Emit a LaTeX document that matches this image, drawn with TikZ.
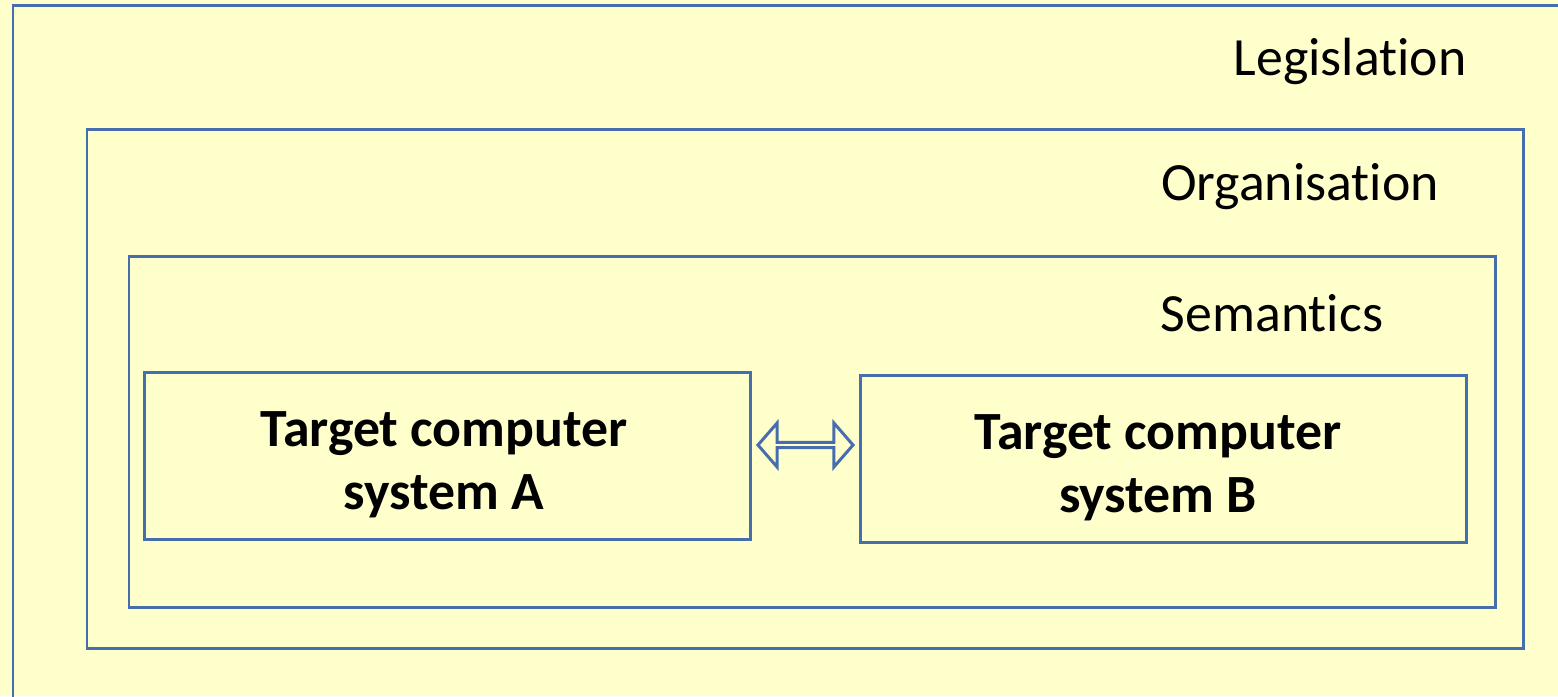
\documentclass[tikz,border=0pt]{standalone}
\usepackage{fontspec}
\setmainfont[Ligatures=NoCommon]{Carlito}
\usetikzlibrary{shapes.arrows}
\definecolor{paleyellow}{RGB}{255,255,204}
\definecolor{frameblue}{RGB}{70,110,175}
\tikzset{layer/.style={draw=frameblue, line width=0.85pt},
 layername/.style={font=\fontsize{15.3}{18}\selectfont},
 sysbox/.style={draw=frameblue, line width=0.85pt, minimum width=6.05cm,
   minimum height=1.66cm},
 sysname/.style={align=center, font=\fontsize{15.3}{18}\selectfont\bfseries},
 link/.style={double arrow, draw=frameblue, line width=0.85pt, inner sep=0pt,
   minimum height=0.95cm, minimum width=0.44cm,
   double arrow head extend=0.11cm, double arrow tip angle=98},
 }

\begin{document}
\begin{tikzpicture}[x=0.01cm,y=-0.01cm]
        \fill[paleyellow] (0,0) rectangle (1558,696);
        \useasboundingbox (0,0) rectangle (1558,696);
        \clip (0,0) rectangle (1558,696);
        % nested layers, the outer one runs off the page
        \draw[layer] (13,5) rectangle (1600,720);
        \draw[layer] (87,129) rectangle (1523,648);
        \draw[layer] (129,256) rectangle (1495,607);
        \node[layername] (legis) at (1350,61) {Legislation};
        \node[layername] (organ) at (1300,187) {Organisation};
        \node[layername] (seman) at (1272,313) {Semantics};
        \node[sysbox] (sysA) at (447.5,456) {};
        \node[sysbox] (sysB) at (1163.5,459) {};
        \node[sysname] (nameA) at (444,465) {Target computer\\system A};
        \node[sysname] (nameB) at (1158,468) {Target computer\\system B};
        \node[link] (link) at (805.5,445) {};
    \end{tikzpicture}
\end{document}
